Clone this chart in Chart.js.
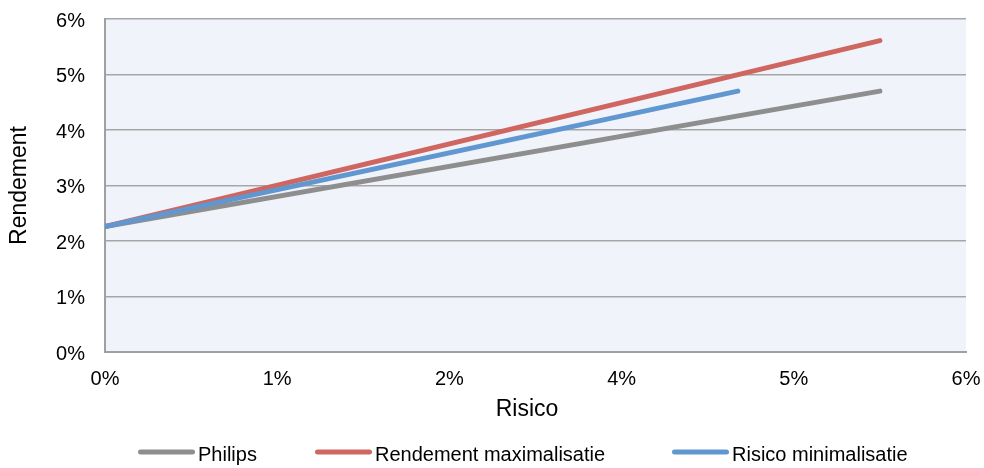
<!DOCTYPE html>
<html>
<head>
<meta charset="utf-8">
<script src="https://cdn.jsdelivr.net/npm/chart.js@4/dist/chart.umd.min.js"></script>
<style>
  html, body { margin: 0; padding: 0; background: #ffffff; }
  #c { display: block; }
</style>
</head>
<body>
<canvas id="c" width="984" height="468"></canvas>
<script>
// Risk (x, %) and return (y, %) for each portfolio line
const seriesNames = ['Philips', 'Rendement maximalisatie', 'Risico minimalisatie'];
const philipsRisk = [0, 5.40];
const philipsReturn = [2.26, 4.70];
const maxReturnRisk = [0, 5.40];
const maxReturnReturn = [2.26, 5.61];
const minRiskRisk = [0, 4.41];
const minRiskReturn = [2.26, 4.70];

// x axis: major unit 1.2 %, labels shown rounded to whole percents
const xTickValues = [0, 1.2, 2.4, 3.6, 4.8, 6.0];
const xTickLabels = ['0%', '1%', '2%', '4%', '5%', '6%'];
const yTickValues = [0, 1, 2, 3, 4, 5, 6];
const yTickLabels = ['0%', '1%', '2%', '3%', '4%', '5%', '6%'];
const xAxisTitle = 'Risico';
const yAxisTitle = 'Rendement';

const seriesColors = ['#8e8e8e', '#cf6660', '#6197d0'];
const FONT = '"Liberation Sans", Arial, Helvetica, sans-serif';

function toPoints(xs, ys) {
  return xs.map((x, i) => ({ x: x, y: ys[i] }));
}

// light plot-area fill behind the grid
const plotBackground = {
  id: 'plotBackground',
  beforeDraw(chart) {
    const { ctx, chartArea: a } = chart;
    ctx.save();
    ctx.fillStyle = '#f0f4fa';
    ctx.fillRect(a.left, a.top, a.right - a.left, a.bottom - a.top);
    ctx.restore();
  }
};

// x-axis title, centred under the whole figure rather than the plot area
const xTitle = {
  id: 'xTitle',
  afterDraw(chart) {
    const ctx = chart.ctx;
    ctx.save();
    ctx.font = '23px ' + FONT;
    ctx.fillStyle = '#000000';
    ctx.textAlign = 'center';
    ctx.textBaseline = 'middle';
    ctx.fillText(xAxisTitle, 527, 410);
    ctx.restore();
  }
};

// legend row under the axis title: line sample + label per series
const legendSlots = [138, 315, 672];
const lineLegend = {
  id: 'lineLegend',
  afterDraw(chart) {
    const ctx = chart.ctx;
    ctx.save();
    ctx.font = '20px ' + FONT;
    const markLen = 57, textGap = 3;
    const yMark = 452, yText = 455;
    chart.data.datasets.forEach((d, i) => {
      const x = legendSlots[i];
      ctx.strokeStyle = d.borderColor;
      ctx.lineWidth = 5;
      ctx.lineCap = 'round';
      ctx.beginPath();
      ctx.moveTo(x + 2.5, yMark);
      ctx.lineTo(x + markLen - 2.5, yMark);
      ctx.stroke();
      ctx.fillStyle = '#000000';
      ctx.textAlign = 'left';
      ctx.textBaseline = 'middle';
      ctx.fillText(d.label, x + markLen + textGap, yText);
    });
    ctx.restore();
  }
};

Chart.defaults.font.family = FONT;
Chart.defaults.color = '#000000';

const datasets = [
  { label: seriesNames[0], data: toPoints(philipsRisk, philipsReturn), borderColor: seriesColors[0], order: 3 },
  { label: seriesNames[1], data: toPoints(maxReturnRisk, maxReturnReturn), borderColor: seriesColors[1], order: 2 },
  { label: seriesNames[2], data: toPoints(minRiskRisk, minRiskReturn), borderColor: seriesColors[2], order: 1 }
].map(d => Object.assign(d, {
  showLine: true,
  borderWidth: 5,
  borderCapStyle: 'round',
  borderJoinStyle: 'round',
  pointRadius: 0,
  pointHoverRadius: 0,
  fill: false,
  tension: 0,
  backgroundColor: d.borderColor
}));

new Chart(document.getElementById('c'), {
  type: 'scatter',
  data: { datasets: datasets },
  options: {
    responsive: false,
    devicePixelRatio: 1,
    animation: false,
    events: [],
    layout: { padding: { top: 19, right: 18, left: 0, bottom: 0 } },
    plugins: {
      legend: { display: false },
      tooltip: { enabled: false }
    },
    scales: {
      x: {
        type: 'linear',
        min: xTickValues[0],
        max: xTickValues[xTickValues.length - 1],
        afterBuildTicks: s => { s.ticks = xTickValues.map(v => ({ value: v })); },
        afterFit: s => { s.height = 116; s.paddingLeft = 0; s.paddingRight = 0; },
        ticks: {
          font: { size: 20 },
          color: '#000000',
          padding: 15,
          maxRotation: 0,
          autoSkip: false,
          callback: (v, i) => xTickLabels[i]
        },
        grid: { display: false, drawTicks: false },
        border: { display: true, color: '#a0a0a0', width: 2 },
        title: { display: false }
      },
      y: {
        type: 'linear',
        min: yTickValues[0],
        max: yTickValues[yTickValues.length - 1],
        afterBuildTicks: s => { s.ticks = yTickValues.map(v => ({ value: v })); },
        afterFit: s => { s.width = 105; s.paddingTop = 0; s.paddingBottom = 0; },
        ticks: {
          font: { size: 20 },
          color: '#000000',
          padding: 20,
          labelOffset: 2,
          autoSkip: false,
          callback: (v, i) => yTickLabels[i]
        },
        grid: { color: '#a6a6a6', lineWidth: 1.5, drawTicks: false },
        border: { display: true, color: '#a0a0a0', width: 2 },
        title: {
          display: true,
          text: yAxisTitle,
          font: { size: 23 },
          color: '#000000',
          padding: { top: 6, bottom: 0 }
        }
      }
    }
  },
  plugins: [plotBackground, xTitle, lineLegend]
});
</script>
</body>
</html>
